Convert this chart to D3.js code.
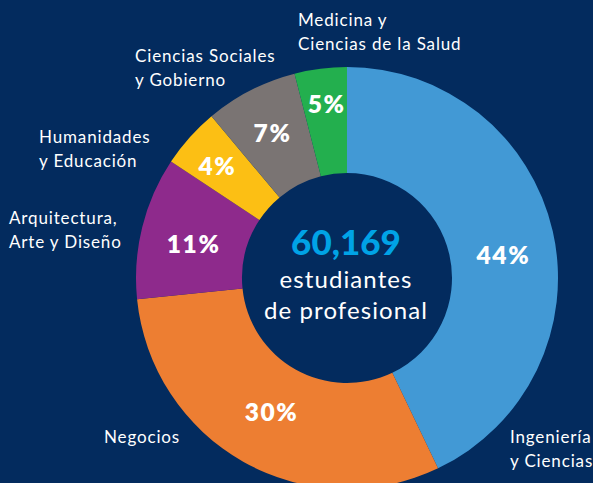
<!DOCTYPE html>
<html><head><meta charset="utf-8">
<script src="https://cdn.jsdelivr.net/npm/d3@7"></script>
<style>
html,body{margin:0;padding:0;background:#032B5E;}
svg{display:block;}
</style></head>
<body>
<svg id="chart" width="593" height="483"></svg>
<script>
// Data (clockwise from 12 o'clock)
const categories = ["Ingeniería y Ciencias","Negocios","Arquitectura, Arte y Diseño","Humanidades y Educación","Ciencias Sociales y Gobierno","Medicina y Ciencias de la Salud"];
const shares = [42.9, 30.5, 10.9, 4.6, 7.1, 4.0];          // arc sizes as drawn
const pctLabels = ["44%","30%","11%","4%","7%","5%"];      // printed labels
const totalLabel = "60,169";
const centerLines = ["estudiantes","de profesional"];
const catLines = [["Ingeniería","y Ciencias"],["Negocios"],["Arquitectura,","Arte y Diseño"],["Humanidades","y Educación"],["Ciencias Sociales","y Gobierno"],["Medicina y","Ciencias de la Salud"]];

const colors = ["#4299D5","#ED7E32","#8E2A8C","#FCBF14","#7A7473","#23AF4E"];
const W = 593, H = 483, cx = 347, cy = 278, R = 211, r = 105;
const svg = d3.select("#chart");
svg.append("rect").attr("width",W).attr("height",H).attr("fill","#032B5E");
const g = svg.append("g").attr("transform",`translate(${cx},${cy})`);

const pie = d3.pie().sort(null).value(d=>d);
const arcs = pie(shares);
const arc = d3.arc().innerRadius(r).outerRadius(R);
g.selectAll("path.slice").data(arcs).join("path")
  .attr("class","slice").attr("d",arc)
  .attr("fill",(d,i)=>colors[i]);

// percent labels: along slice mid-angle, with per-label radial placement
const labelR = [158, 154, 157, 171, 163, 175];
const labelDA = [4.5, 0, -1.5, -1, 0, 0.5]; // degrees nudge
g.selectAll("text.pct").data(arcs).join("text")
  .attr("class","pct")
  .attr("transform",(d,i)=>{
    const a = (d.startAngle+d.endAngle)/2 + labelDA[i]*Math.PI/180;
    return `translate(${labelR[i]*Math.sin(a)},${-labelR[i]*Math.cos(a)})`;
  })
  .attr("text-anchor","middle").attr("dy","0.36em")
  .attr("fill","#fff").attr("font-family","Lato, sans-serif")
  .attr("font-weight",800).attr("font-size",24.5).attr("letter-spacing",1.6)
  .text((d,i)=>pctLabels[i]);

// center
g.append("text").attr("x",-1).attr("y",-23).attr("text-anchor","middle")
  .attr("fill","#00A3E6").attr("font-family","Lato, sans-serif")
  .attr("font-weight",900).attr("font-size",35).text(totalLabel);
g.selectAll("text.cl").data(centerLines).join("text")
  .attr("class","cl").attr("x",-1).attr("y",(d,i)=>10+i*31)
  .attr("text-anchor","middle").attr("fill","#fff")
  .attr("font-family","Lato, sans-serif").attr("font-weight",400).attr("font-size",24)
  .attr("letter-spacing",1.1)
  .text(d=>d);

// category labels (left aligned, positioned around the ring)
const catPos = [[510,443],[104,443],[9,224],[39,143],[135,62],[298,26]];
const lab = svg.append("g").attr("font-family","Lato, sans-serif")
  .attr("font-size",17).attr("letter-spacing",0.85).attr("fill","#fff");
catLines.forEach((lines,i)=>{
  const t = lab.append("text").attr("x",catPos[i][0]).attr("y",catPos[i][1]);
  lines.forEach((s,j)=>t.append("tspan").attr("x",catPos[i][0]).attr("dy",j?24:0).text(s));
});
</script>
</body></html>
